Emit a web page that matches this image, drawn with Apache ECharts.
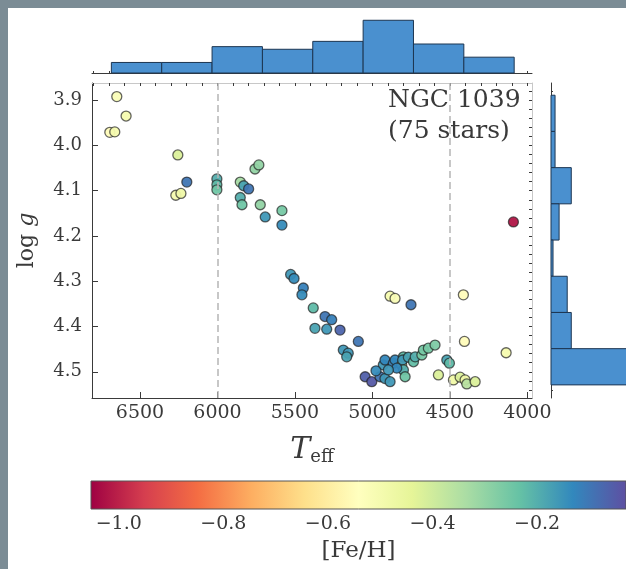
<!DOCTYPE html>
<html>
<head>
<meta charset="utf-8">
<script src="https://cdn.jsdelivr.net/npm/echarts@6/dist/echarts.min.js"></script>
<style>
  html, body { margin: 0; padding: 0; background: #7b8c95; }
  #panel { position: absolute; left: 8px; top: 8px; width: 618px; height: 561px; background: #fff; }
  #main { position: absolute; left: 0; top: 0; width: 626px; height: 569px; }
</style>
</head>
<body>
<div id="panel"></div>
<div id="main"></div>
<script>
// stars: Teff, log g, [Fe/H]
const teff = [6650, 6590, 6695, 6663, 6256, 6198, 6269, 6236, 6004, 6004,
  6004, 5853, 5831, 5799, 5853, 5842, 5758, 5733, 5724, 5692,
  5584, 5584, 5528, 5506, 5446, 5455, 5382, 5306, 5263, 5371,
  5295, 5209, 5091, 5188, 5156, 5166, 4886, 4854, 4751, 4413,
  4406, 4137, 4090, 5047, 5004, 4951, 4919, 4886, 4930, 4919,
  4865, 4854, 4811, 4800, 4805, 4800, 4789, 4843, 4897, 4768,
  4735, 4724, 4681, 4671, 4639, 4596, 4520, 4503, 4574, 4477,
  4434, 4402, 4391, 4337, 4977]
const logg = [3.892, 3.935, 3.971, 3.970, 4.021, 4.081, 4.110, 4.106, 4.074, 4.087,
  4.098, 4.081, 4.089, 4.096, 4.115, 4.131, 4.052, 4.043, 4.131, 4.158,
  4.144, 4.176, 4.285, 4.294, 4.315, 4.330, 4.359, 4.378, 4.385, 4.404,
  4.406, 4.408, 4.433, 4.452, 4.459, 4.467, 4.333, 4.338, 4.352, 4.330,
  4.433, 4.458, 4.169, 4.511, 4.522, 4.511, 4.515, 4.522, 4.485, 4.474,
  4.481, 4.474, 4.485, 4.467, 4.474, 4.496, 4.511, 4.492, 4.496, 4.468,
  4.478, 4.467, 4.463, 4.452, 4.448, 4.441, 4.474, 4.481, 4.507, 4.518,
  4.512, 4.518, 4.527, 4.522, 4.498]
const feh = [-0.52, -0.50, -0.55, -0.50, -0.42, -0.10, -0.50, -0.48, -0.20, -0.22,
  -0.25, -0.33, -0.18, -0.10, -0.20, -0.25, -0.30, -0.30, -0.30, -0.16,
  -0.26, -0.14, -0.16, -0.14, -0.12, -0.14, -0.22, -0.10, -0.12, -0.18,
  -0.16, -0.07, -0.10, -0.16, -0.16, -0.18, -0.50, -0.52, -0.10, -0.55,
  -0.55, -0.50, -1.02, -0.06, -0.05, -0.10, -0.16, -0.16, -0.16, -0.13,
  -0.12, -0.13, -0.40, -0.22, -0.16, -0.20, -0.25, -0.13, -0.16, -0.18,
  -0.23, -0.20, -0.26, -0.26, -0.26, -0.27, -0.18, -0.22, -0.42, -0.48,
  -0.42, -0.48, -0.36, -0.42, -0.14]

// histograms
const topEdges = [6685, 6360, 6035, 5710, 5385, 5060, 4735, 4410, 4085]
const topCounts = [4, 4, 10, 9, 12, 20, 11, 6]
const rightEdges = [3.889, 3.969, 4.049, 4.129, 4.209, 4.289, 4.369, 4.449, 4.529]
const rightCounts = [2, 2, 10, 4, 1, 8, 10, 38]

// axes
const xTicks = [6500, 6000, 5500, 5000, 4500, 4000]
const yTicks = [3.9, 4.0, 4.1, 4.2, 4.3, 4.4, 4.5]
const cbTicks = [-1.0, -0.8, -0.6, -0.4, -0.2]
const vLines = [6000, 4500]
const xMin = 3970, xMax = 6810
const yMin = 3.862, yMax = 4.558
const cbMin = -1.053, cbMax = -0.03

const spectral = ['#9e0142', '#d53e4f', '#f46d43', '#fdae61', '#fee08b', '#ffffbf',
  '#e6f598', '#abdda4', '#66c2a5', '#3288bd', '#5e4fa2']

const FONT = 'DejaVu Serif'
const INK = '#3a3a3a'

// minor tick positions
const xMinor = []
for (let v = 4000; v <= 6800; v += 100) xMinor.push(v)
const yMinor = []
for (let v = 3.88; v <= 4.55; v += 0.02) yMinor.push(+v.toFixed(2))
const cbMinor = []
for (let v = -1.05; v <= -0.04; v += 0.05) cbMinor.push(+v.toFixed(2))

const minus = (s) => s.replace('-', '\u2212')

const myChart = echarts.init(document.getElementById('main'))

const histStyle = { fill: '#4a90cf', stroke: '#1d3652', lineWidth: 1 }

const majorTick = (vals, len) => ({ show: true, inside: true, length: len, customValues: vals, lineStyle: { color: INK, width: 1 } })

const options = {
  animation: false,
  backgroundColor: 'transparent',
  grid: [
    { left: 92, top: 83, width: 440, height: 315 },   // scatter
    { left: 92, top: 15, width: 440, height: 58 },    // top hist
    { left: 551, top: 83, width: 100, height: 315 },  // right hist
    { left: 91, top: 481, width: 536, height: 28 }    // colorbar
  ],
  xAxis: [
    {
      gridIndex: 0, type: 'value', inverse: true, min: xMin, max: xMax,
      axisLine: { show: true, lineStyle: { color: INK } },
      axisTick: majorTick(xTicks, 6),
      axisLabel: { customValues: xTicks, fontFamily: FONT, fontSize: 19, color: INK, margin: 6, formatter: (v) => String(v) },
      splitLine: { show: false },
      name: '{t|T}{s|eff}', nameLocation: 'middle', nameGap: 36,
      nameTextStyle: {
        rich: {
          t: { fontFamily: FONT, fontStyle: 'italic', fontSize: 30, color: INK },
          s: { fontFamily: FONT, fontSize: 18, color: INK, padding: [14, 0, 0, 0] }
        }
      }
    },
    {
      gridIndex: 0, type: 'value', inverse: true, min: xMin, max: xMax,
      axisLine: { show: false }, axisTick: majorTick(xMinor, 3),
      axisLabel: { show: false }, splitLine: { show: false }
    },
    {
      gridIndex: 0, type: 'value', inverse: true, min: xMin, max: xMax, position: 'top',
      axisLine: { show: true, lineStyle: { color: '#c8c8c8' } }, axisTick: { show: false },
      axisLabel: { show: false }, splitLine: { show: false }
    },
    {
      gridIndex: 1, type: 'value', inverse: true, min: xMin, max: xMax,
      axisLine: { show: true, lineStyle: { color: INK } }, axisTick: majorTick(xMinor, 2),
      axisLabel: { show: false }, splitLine: { show: false }
    },
    {
      gridIndex: 2, type: 'value', min: 0, max: 37, show: false
    },
    {
      gridIndex: 3, type: 'value', min: cbMin, max: cbMax,
      axisLine: { show: false },
      axisTick: majorTick(cbMinor, 3),
      axisLabel: {
        customValues: cbTicks, fontFamily: FONT, fontSize: 19, color: INK, margin: 6,
        formatter: (v) => minus(v.toFixed(1))
      },
      splitLine: { show: false },
      name: '[Fe/H]', nameLocation: 'middle', nameGap: 31,
      nameTextStyle: { fontFamily: FONT, fontSize: 23, color: INK }
    }
  ],
  yAxis: [
    {
      gridIndex: 0, type: 'value', inverse: true, min: yMin, max: yMax,
      axisLine: { show: true, lineStyle: { color: INK } },
      axisTick: majorTick(yTicks, 6),
      axisLabel: { customValues: yTicks, fontFamily: FONT, fontSize: 18, color: INK, margin: 10, formatter: (v) => v.toFixed(1) },
      splitLine: { show: false },
      name: '{n|log }{g|g}', nameLocation: 'middle', nameGap: 54, nameRotate: 90,
      nameTextStyle: {
        rich: {
          n: { fontFamily: FONT, fontSize: 22, color: INK },
          g: { fontFamily: FONT, fontSize: 22, fontStyle: 'italic', color: INK }
        }
      }
    },
    {
      gridIndex: 0, type: 'value', inverse: true, min: yMin, max: yMax,
      axisLine: { show: false }, axisTick: majorTick(yMinor, 3),
      axisLabel: { show: false }, splitLine: { show: false }
    },
    {
      gridIndex: 0, type: 'value', inverse: true, min: yMin, max: yMax, position: 'right',
      axisLine: { show: true, lineStyle: { color: '#c8c8c8' } }, axisTick: { show: false },
      axisLabel: { show: false }, splitLine: { show: false }
    },
    {
      gridIndex: 1, type: 'value', min: 0, max: 22, show: false
    },
    {
      gridIndex: 2, type: 'value', inverse: true, min: yMin, max: yMax,
      axisLine: { show: true, lineStyle: { color: INK } }, axisTick: majorTick(yMinor, 2),
      axisLabel: { show: false }, splitLine: { show: false }
    },
    {
      gridIndex: 3, type: 'value', min: 0, max: 1, show: false
    }
  ],
  visualMap: {
    show: false, type: 'continuous', seriesIndex: 1, dimension: 2,
    min: cbMin, max: cbMax, inRange: { color: spectral }
  },
  graphic: [
    {
      type: 'text', left: 388, top: 85, z: 10,
      style: {
        text: 'NGC 1039\n(75 stars)', fill: INK, align: 'center',
        font: '25px "DejaVu Serif"', lineHeight: 31
      }
    }
  ],
  series: [
    {
      // guide lines
      type: 'scatter', xAxisIndex: 0, yAxisIndex: 0, data: [], z: 1,
      markLine: {
        silent: true, symbol: 'none', animation: false,
        label: { show: false },
        lineStyle: { type: [7, 4], color: '#b5b5b5', width: 1.5 },
        data: vLines.map((v) => ({ xAxis: v }))
      }
    },
    {
      type: 'scatter', xAxisIndex: 0, yAxisIndex: 0, z: 3,
      data: teff.map((t, i) => [t, logg[i], feh[i]]),
      symbolSize: 10,
      itemStyle: { borderColor: 'rgba(30,30,30,0.72)', borderWidth: 1.3, opacity: 0.95 }
    },
    {
      type: 'custom', xAxisIndex: 3, yAxisIndex: 3,
      data: topCounts.map((c, i) => [topEdges[i], topEdges[i + 1], c]),
      encode: { x: [0, 1], y: 2 },
      renderItem: (params, api) => {
        const p0 = api.coord([api.value(0), 0])
        const p1 = api.coord([api.value(1), api.value(2)])
        return {
          type: 'rect',
          shape: { x: Math.min(p0[0], p1[0]), y: Math.min(p0[1], p1[1]), width: Math.abs(p1[0] - p0[0]), height: Math.abs(p1[1] - p0[1]) },
          style: histStyle
        }
      }
    },
    {
      type: 'custom', xAxisIndex: 4, yAxisIndex: 4,
      data: rightCounts.map((c, i) => [c, rightEdges[i], rightEdges[i + 1]]),
      encode: { x: 0, y: [1, 2] },
      renderItem: (params, api) => {
        const p0 = api.coord([0, api.value(1)])
        const p1 = api.coord([api.value(0), api.value(2)])
        return {
          type: 'rect',
          shape: { x: Math.min(p0[0], p1[0]), y: Math.min(p0[1], p1[1]), width: Math.abs(p1[0] - p0[0]), height: Math.abs(p1[1] - p0[1]) },
          style: histStyle
        }
      }
    },
    {
      // colorbar
      type: 'custom', xAxisIndex: 5, yAxisIndex: 5,
      data: [[cbMin, cbMax]],
      encode: { x: [0, 1] },
      renderItem: (params, api) => {
        const p0 = api.coord([api.value(0), 0])
        const p1 = api.coord([api.value(1), 1])
        return {
          type: 'rect',
          shape: { x: p0[0], y: p1[1], width: p1[0] - p0[0], height: p0[1] - p1[1] },
          style: {
            fill: new echarts.graphic.LinearGradient(0, 0, 1, 0,
              spectral.map((c, i) => ({ offset: i / (spectral.length - 1), color: c }))),
            stroke: '#555', lineWidth: 1
          }
        }
      }
    }
  ]
}

myChart.setOption(options)
</script>
</body>
</html>
